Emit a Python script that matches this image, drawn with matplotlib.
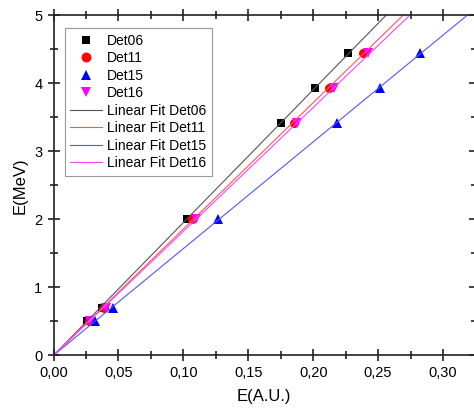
import numpy as np
from matplotlib import pyplot as plt
from matplotlib.ticker import MultipleLocator, FuncFormatter

plt.rcParams['font.family'] = ['Liberation Sans', 'DejaVu Sans']

# energies (MeV) of the calibration points
energy = [0.5, 0.7, 2.0, 3.42, 3.93, 4.44]
# measured amplitude (A.U.) per detector
det06 = [0.0258, 0.0374, 0.1028, 0.1750, 0.2017, 0.2268]
det11 = [0.0272, 0.0390, 0.1070, 0.1850, 0.2122, 0.2380]
det15 = [0.0322, 0.0455, 0.1268, 0.2183, 0.2512, 0.2822]
det16 = [0.0282, 0.0402, 0.1100, 0.1878, 0.2163, 0.2425]

names = ['Det06', 'Det11', 'Det15', 'Det16']
series = [det06, det11, det15, det16]
markers = ['s', 'o', '^', 'v']
msizes = [5.8, 6.5, 7, 7]
colors = ['black', 'red', 'blue', 'magenta']
fitcolors = ['#555555', '#ff5555', '#5555ff', '#ff44ff']

fig = plt.figure(figsize=(4.74, 4.12), dpi=100)
ax = fig.add_axes([0.113, 0.1376, 0.889, 0.8254])

for name, xs, m, ms, c in zip(names, series, markers, msizes, colors):
    ax.plot(xs, energy, linestyle='none', marker=m, color=c, markersize=ms,
            markeredgewidth=0, label=name)

xx = np.linspace(0, 0.33, 50)
for name, xs, c in zip(names, series, fitcolors):
    # linear fit through origin
    x = np.array(xs); y = np.array(energy)
    k = np.sum(x * y) / np.sum(x * x)
    ax.plot(xx, k * xx, color=c, linewidth=0.8, label='Linear Fit ' + name)

ax.set_xlim(0, 0.3246)
ax.set_ylim(0, 5)
ax.xaxis.set_major_locator(MultipleLocator(0.05))
ax.xaxis.set_minor_locator(MultipleLocator(0.025))
ax.yaxis.set_major_locator(MultipleLocator(1))
ax.yaxis.set_minor_locator(MultipleLocator(0.5))
ax.xaxis.set_major_formatter(FuncFormatter(lambda v, p: ('%.2f' % v).replace('.', ',')))
ax.yaxis.set_major_formatter(FuncFormatter(lambda v, p: '%d' % round(v)))

ax.tick_params(which='both', direction='inout', top=True, right=False, labelsize=10.5,
               width=1.2, color='#222222')
ax.tick_params(which='major', length=9)
ax.tick_params(which='minor', length=6)
# right side: inward ticks only
ax.tick_params(axis='y', which='both', right=True, labelright=False)
for s in ax.spines.values():
    s.set_linewidth(1.2)
    s.set_color('#222222')

ax.set_xlabel('E(A.U.)', fontsize=12, labelpad=6)
ax.set_ylabel('E(MeV)', fontsize=12, labelpad=5)

leg = ax.legend(loc='upper left', bbox_to_anchor=(0.026, 0.962), fontsize=10, fancybox=False,
                edgecolor='gray', handlelength=2.3, handletextpad=0.35, labelspacing=0.25,
                borderpad=0.4, borderaxespad=0, markerscale=1.1)
leg.get_frame().set_linewidth(0.8)

fig.savefig('out.png', dpi=100)
